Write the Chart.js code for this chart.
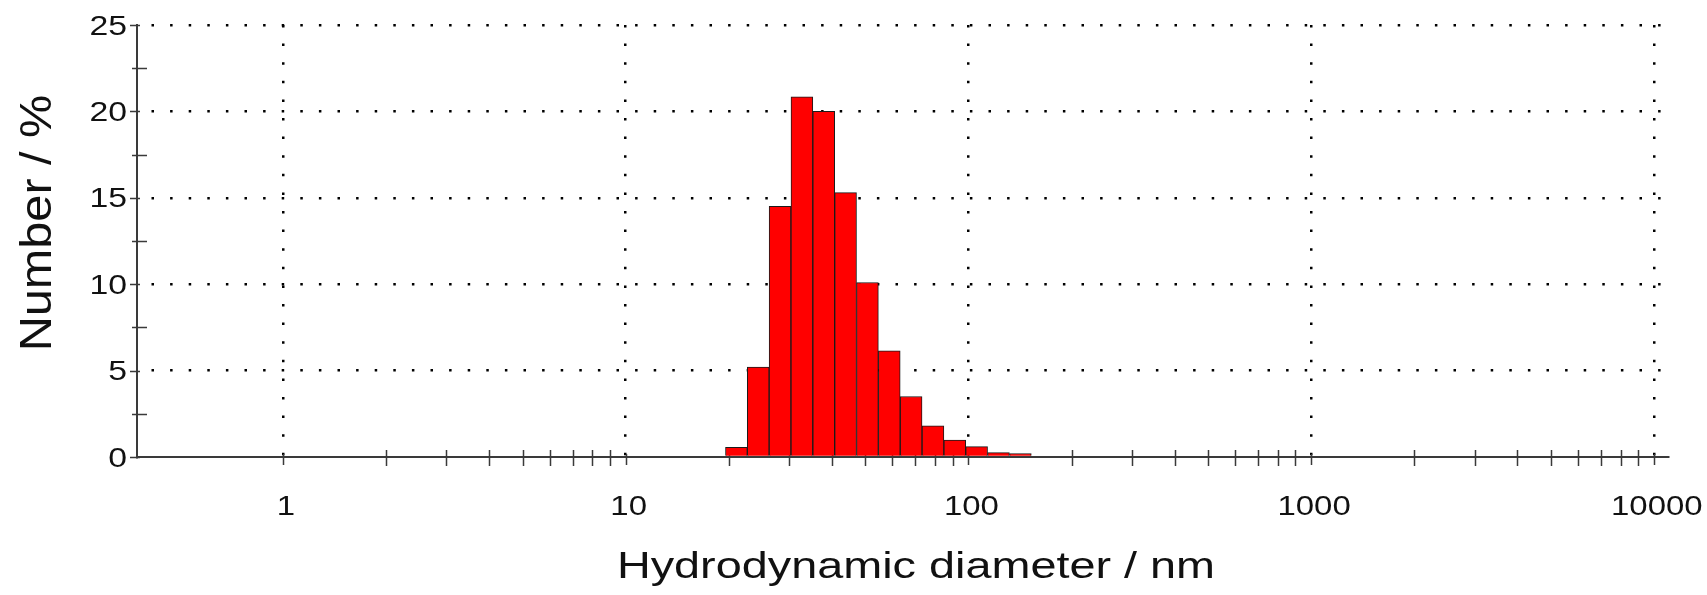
<!DOCTYPE html>
<html>
<head>
<meta charset="utf-8">
<script src="https://cdn.jsdelivr.net/npm/chart.js@4/dist/chart.umd.min.js"></script>
<style>
  html, body { margin: 0; padding: 0; background: #fff; }
  #wrap { position: relative; width: 1707px; height: 595px; }
</style>
</head>
<body>
<div id="wrap"><canvas id="chart"></canvas></div>
<script>
// size classes (nm) of the non-empty bins and their number %
const sizes   = [21.04, 24.36, 28.21, 32.67, 37.84, 43.82, 50.75, 58.77, 68.06, 78.82, 91.28, 105.7, 122.4, 141.8];
const numbers = [0.56, 5.2, 14.5, 20.85, 20.0, 15.3, 10.1, 6.15, 3.5, 1.8, 0.98, 0.6, 0.25, 0.2];

// axis ticks and labels
const xMajorTicks = [1, 10, 100, 1000, 10000];
const xTickLabels = ['1', '10', '100', '1000', '10000'];
const xMinorTicks = [2, 3, 4, 5, 6, 7, 8, 9,
                     20, 30, 40, 50, 60, 70, 80, 90,
                     200, 300, 400, 500, 600, 700, 800, 900,
                     2000, 3000, 4000, 5000, 6000, 7000, 8000, 9000];
const yMajorTicks = [0, 5, 10, 15, 20, 25];
const yTickLabels = ['0', '5', '10', '15', '20', '25'];
const yMinorTicks = [2.5, 7.5, 12.5, 17.5, 22.5];

const xTitle = 'Hydrodynamic diameter / nm';
const yTitle = 'Number / %';

const FONT = "'Liberation Sans', Arial, sans-serif";
const INK = '#111';
const AXIS = '#3a3a3a';

// text in the figure is stretched along its reading direction
function drawText(ctx, text, x, y, opts) {
  ctx.save();
  ctx.translate(x, y);
  if (opts.rotate) ctx.rotate(opts.rotate);
  ctx.scale(opts.stretch, 1);
  ctx.font = opts.size + 'px ' + FONT;
  ctx.fillStyle = INK;
  ctx.textAlign = opts.align;
  ctx.textBaseline = 'alphabetic';
  ctx.fillText(text, 0, 0);
  ctx.restore();
}

const axisDecor = {
  id: 'axisDecor',
  beforeDatasetsDraw(chart) {
    const {ctx, chartArea: area, scales: {x, y}} = chart;
    ctx.save();
    ctx.strokeStyle = AXIS;
    ctx.lineWidth = 1.5;
    ctx.beginPath();
    xMinorTicks.forEach(v => {
      const px = Math.round(x.getPixelForValue(v)) + 0.5;
      ctx.moveTo(px, area.bottom - 7);
      ctx.lineTo(px, area.bottom + 9);
    });
    xMajorTicks.forEach(v => {
      const px = Math.round(x.getPixelForValue(v)) + 0.5;
      ctx.moveTo(px, area.bottom - 3);
      ctx.lineTo(px, area.bottom + 8);
    });
    yMinorTicks.forEach(v => {
      const py = Math.round(y.getPixelForValue(v)) + 0.5;
      ctx.moveTo(area.left - 5, py);
      ctx.lineTo(area.left + 10, py);
    });
    yMajorTicks.forEach(v => {
      const py = Math.round(y.getPixelForValue(v)) + 0.5;
      ctx.moveTo(area.left - 7, py);
      ctx.lineTo(area.left + 3, py);
    });
    ctx.stroke();
    ctx.restore();
  },
  afterDraw(chart) {
    const {ctx, chartArea: area, scales: {x, y}} = chart;
    yMajorTicks.forEach((v, i) => {
      drawText(ctx, yTickLabels[i], area.left - 10, y.getPixelForValue(v) + 9.5,
               {size: 27, stretch: 1.25, align: 'right'});
    });
    xMajorTicks.forEach((v, i) => {
      drawText(ctx, xTickLabels[i], x.getPixelForValue(v) + 3, area.bottom + 58,
               {size: 27, stretch: 1.22, align: 'center'});
    });
    drawText(ctx, xTitle, 916, 578, {size: 36, stretch: 1.3, align: 'center'});
    drawText(ctx, yTitle, 51, 223, {size: 45, stretch: 1.08, align: 'center', rotate: -Math.PI / 2});
  }
};

new Chart(document.getElementById('chart'), {
  type: 'bar',
  data: {
    datasets: [{
      data: sizes.map((s, i) => ({x: s, y: numbers[i]})),
      backgroundColor: '#ff0000',
      borderColor: '#1a1a1a',
      borderWidth: 1,
      barPercentage: 1,
      categoryPercentage: 1
    }]
  },
  options: {
    responsive: true,
    maintainAspectRatio: false,
    animation: false,
    layout: {padding: {left: 137, right: 39, top: 25, bottom: 138}},
    plugins: {legend: {display: false}, tooltip: {enabled: false}},
    scales: {
      x: {
        type: 'logarithmic',
        min: 0.375,
        max: 11000,
        offset: false,
        afterBuildTicks: s => { s.ticks = xMajorTicks.map(v => ({value: v, major: true})); },
        ticks: {display: false},
        grid: {offset: false, drawTicks: false, color: '#000', lineWidth: 2.5},
        border: {display: true, color: AXIS, width: 2, dash: [2.5, 16.1], dashOffset: 0}
      },
      y: {
        type: 'linear',
        min: 0,
        max: 25,
        afterBuildTicks: s => { s.ticks = yMajorTicks.map(v => ({value: v})); },
        ticks: {display: false},
        grid: {
          drawTicks: false,
          lineWidth: 2.5,
          color: c => (c.tick && c.tick.value === 0) ? 'rgba(0,0,0,0)' : '#000'
        },
        border: {display: true, color: AXIS, width: 2, dash: [2.5, 16.1], dashOffset: 5.1}
      }
    }
  },
  plugins: [axisDecor]
});
</script>
</body>
</html>
